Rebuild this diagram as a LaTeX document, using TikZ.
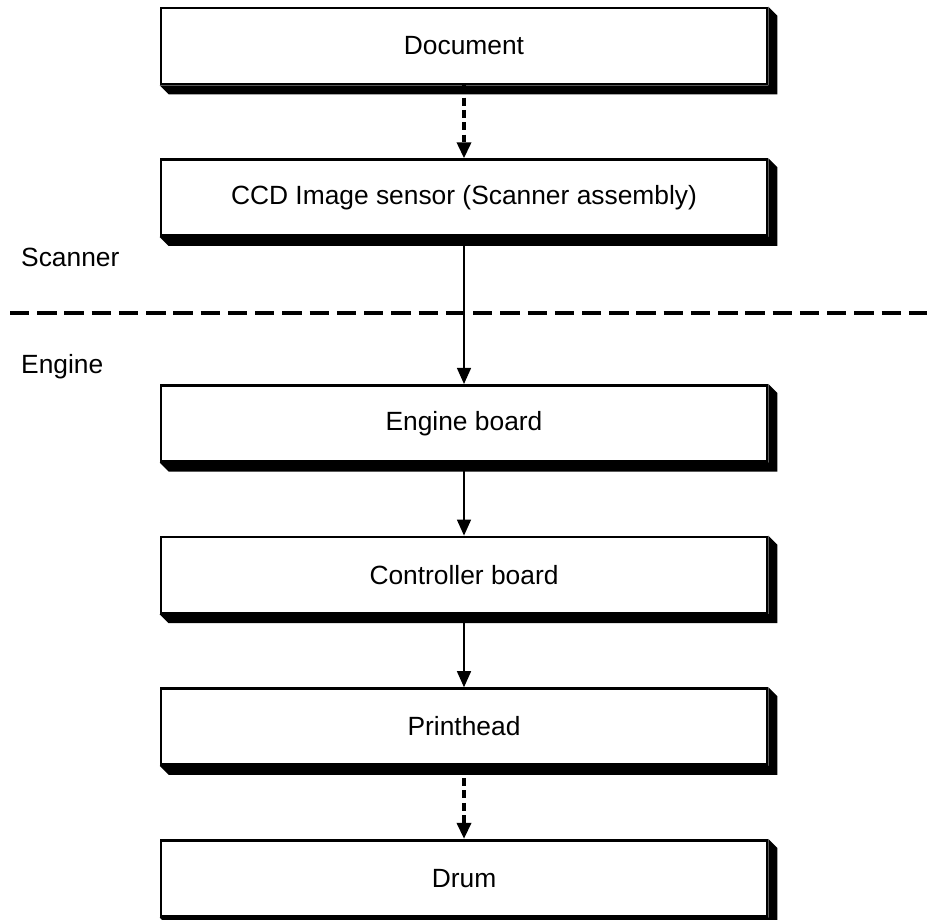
\documentclass[tikz,border=0pt]{standalone}
\usepackage{fontspec}
\setmainfont{Liberation Sans}
\usepackage{tikz}
\usetikzlibrary{arrows.meta, positioning, calc}
\tikzset{
    box/.style={rectangle, draw, line width=1.5pt, fill=white, minimum width=12.12cm, minimum height=1.52cm, text centered, font=\fontsize{15}{18}\selectfont},
    arrow/.style={line width=0.8pt,-{Triangle[width=0.28cm,length=0.32cm]}},
    dasharrow/.style={line width=2pt, dash pattern=on 4.5pt off 2.5pt,-{Triangle[width=0.28cm,length=0.32cm]}},
    divider/.style={line width=2.3pt, dash pattern=on 11pt off 4.5pt},
    zone/.style={anchor=west, font=\fontsize{15}{18}\selectfont}
}
\begin{document}
\begin{tikzpicture}[node distance=1.46cm, >=stealth]
    \useasboundingbox (0,0) rectangle (18.54,-18.4);
    \node (doc) [box] at (9.28,-0.92) {Document};
    \node (ccd) [box, below=of doc] {CCD Image sensor (Scanner assembly)};
    \node (eng) [box, below=2.94cm of ccd] {Engine board};
    \node (ctrl) [box, below=of eng] {Controller board};
    \node (head) [box, below=of ctrl] {Printhead};
    \node (drum) [box, below=of head] {Drum};

    % scanner / engine split
    \node (scan) [zone] at (0.3,-5.14) {Scanner};
    \node (engl) [zone] at (0.3,-7.34) {Engine};
    \coordinate (divl) at (0.2,-6.26);
    \coordinate (divr) at (18.54,-6.26);
    \draw [divider] (divl) -- (divr);

    \draw [dasharrow] (doc) -- (ccd);
    \draw [arrow] (ccd) -- (eng);
    \draw [arrow] (eng) -- (ctrl);
    \draw [arrow] (ctrl) -- (head);
    \draw [dasharrow] (head) -- (drum);

    % block shadows
    \foreach \n in {doc,ccd,eng,ctrl,head,drum}
        \fill (\n.south west) -- ++(0.18,-0.18) -- ($(\n.south east)+(0.18,-0.18)$)
            -- ($(\n.north east)+(0.18,-0.18)$) -- (\n.north east) -- (\n.south east) -- cycle;
\end{tikzpicture}
\end{document}
